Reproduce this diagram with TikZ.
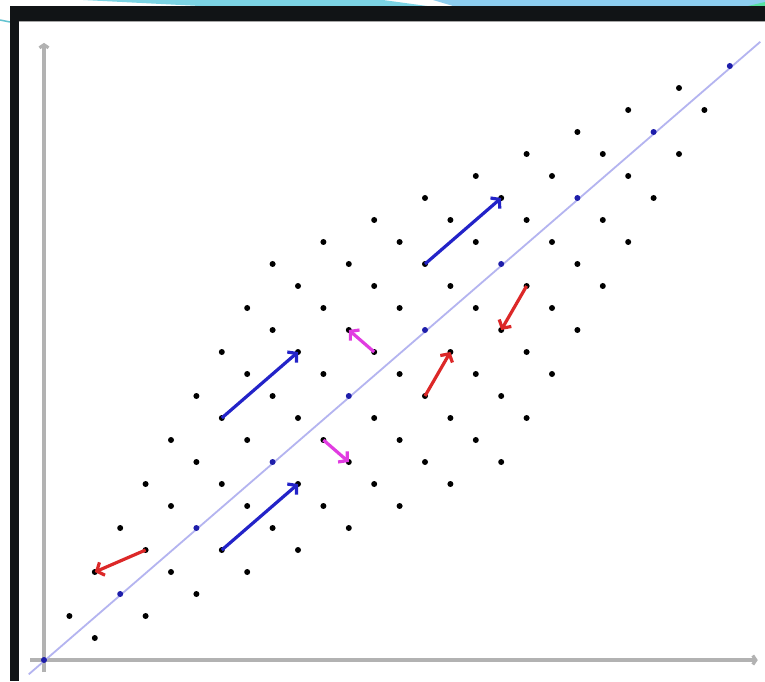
\documentclass[tikz,border=0pt]{standalone}
\usetikzlibrary{arrows.meta}

\definecolor{framecol}{RGB}{17,20,22}
\definecolor{themecyan}{RGB}{124,212,228}
\definecolor{themesky}{RGB}{141,206,240}
\definecolor{axisgray}{RGB}{178,178,178}
\definecolor{diagline}{RGB}{180,180,240}
\definecolor{diagdot}{RGB}{30,30,170}
\definecolor{arrblue}{RGB}{35,35,200}
\definecolor{arrred}{RGB}{220,40,40}
\definecolor{arrmag}{RGB}{225,60,225}

\begin{document}
\begin{tikzpicture}[
x=25.4pt, y=22pt,
point/.style={circle, fill=#1, inner sep=0pt, minimum size=6pt},
axis/.style={axisgray, line width=3.2pt, -{Straight Barb[length=3pt,width=9pt]}},
shiftvec/.style={#1, line width=3.2pt, -{Straight Barb[length=6pt,width=14pt]}}
]

% slide frame, in pixel units
\begin{scope}[x=1pt, y=-1pt, shift={(-44pt,660pt)}]
\useasboundingbox[fill=white] (0,0) rectangle (765,681);
\fill[themecyan] (83,0) -- (200,6) -- (427,6) -- (383,0) -- cycle;
\fill[themesky] (433,0) -- (453,6) -- (765,6) -- (765,0) -- cycle;
\fill[themecyan!70!green] (748,6) -- (765,6) -- (765,2) -- cycle;
\draw[themecyan!80!teal, line width=1.5pt] (0,20) -- (10,22);
\fill[framecol] (10,6) rectangle (765,21);
\fill[framecol] (10,6) rectangle (18.5,681);
\draw[gray!70, line width=1pt] (18.5,21.6) -- (765,21.6);
\end{scope}

% axes
\draw[axis] (0,-0.55) -- (0,28.05);
\draw[axis] (-0.55,0) -- (28.1,0);

% diagonal
\draw[diagline, line width=1.8pt] (-0.6,-0.65) -- (28.2,28.1);

% lattice points
\foreach \i in {0,...,9}{
  \foreach \j in {0,...,9}{
    \ifnum\i=\j \def\dotcol{diagdot}\else \def\dotcol{black}\fi
    \node[point=\dotcol] (p\i\j) at ({\i+2*\j},{2*\i+\j}) {};
  }
}

% shifts along the diagonal
\draw[shiftvec=arrblue] (p74.center) -- (p85.center);
\draw[shiftvec=arrblue] (p51.center) -- (p62.center);
\draw[shiftvec=arrblue] (p13.center) -- (p24.center);

% other moves
\draw[shiftvec=arrred] (p21.center) -- (p20.center);
\draw[shiftvec=arrred] (p36.center) -- (p46.center);
\draw[shiftvec=arrred] (p57.center) -- (p47.center);
\draw[shiftvec=arrmag] (p54.center) -- (p63.center);
\draw[shiftvec=arrmag] (p34.center) -- (p25.center);

\end{tikzpicture}
\end{document}
